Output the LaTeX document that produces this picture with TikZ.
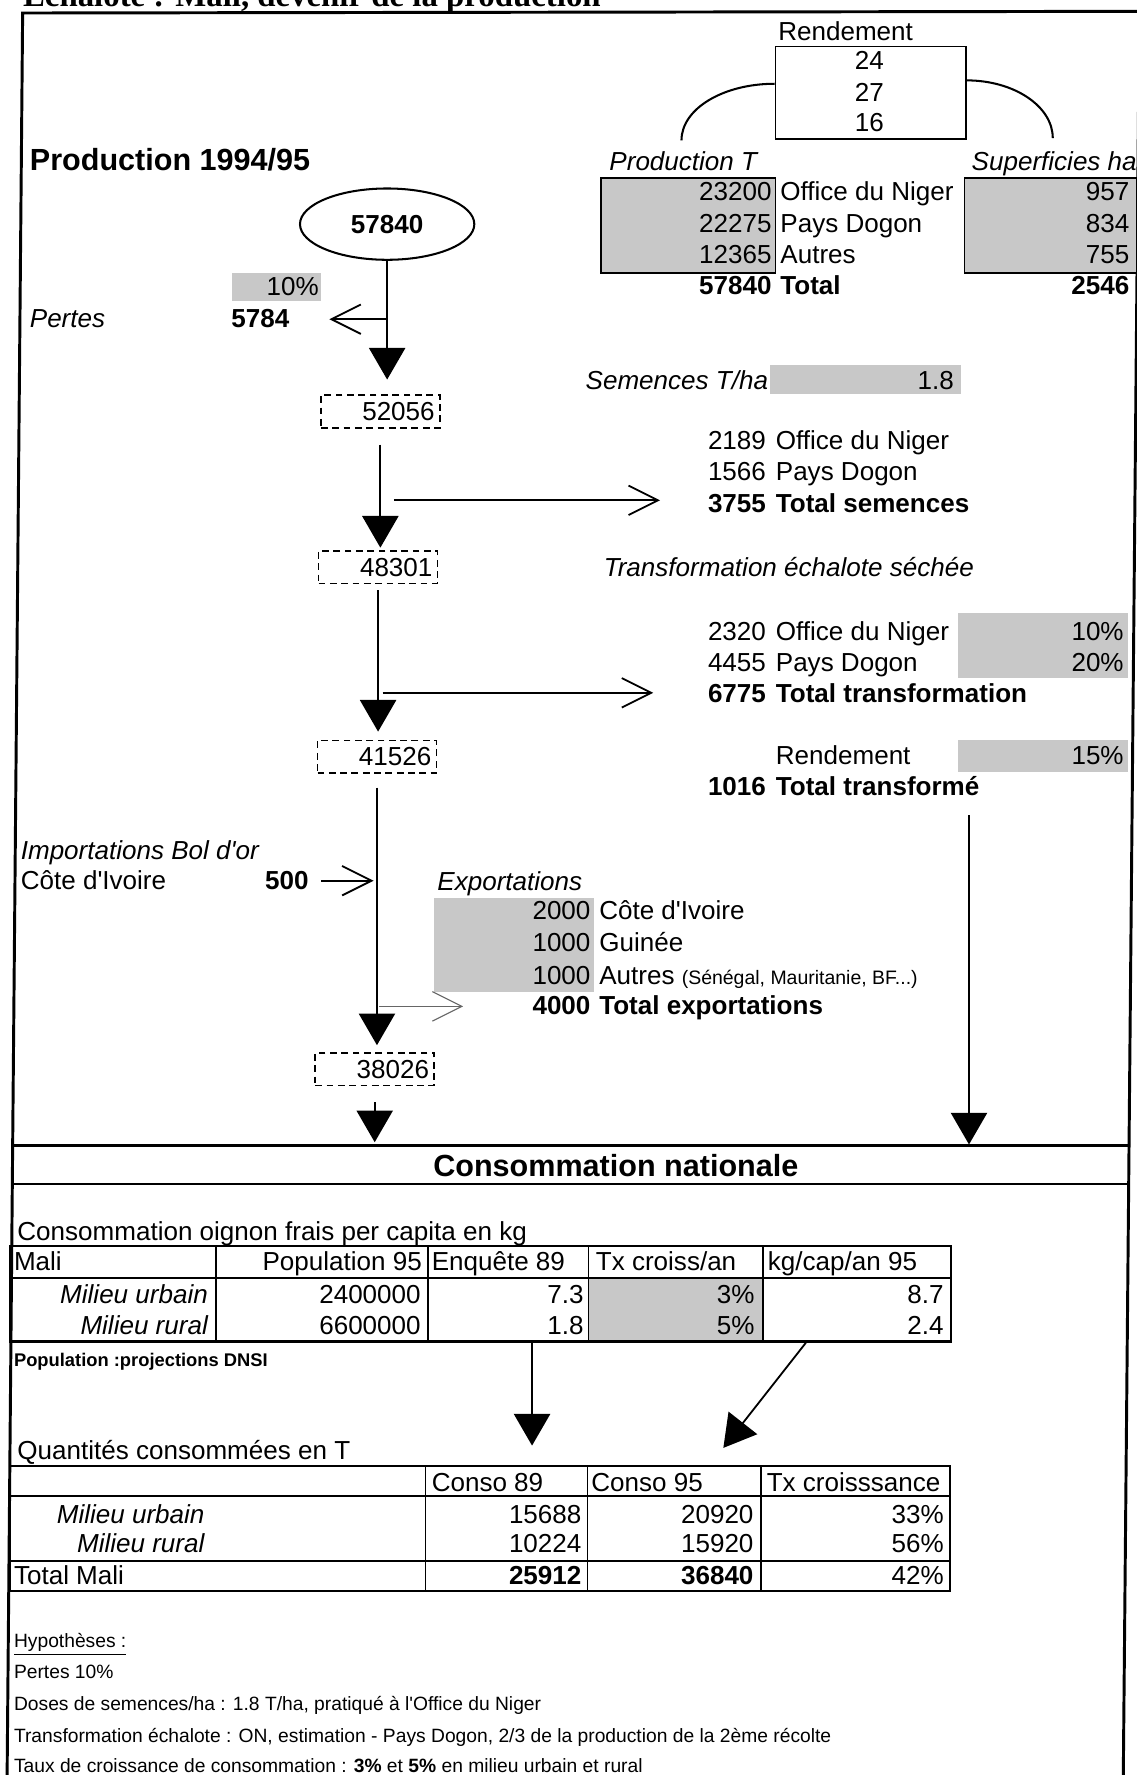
\documentclass[tikz,border=0pt]{standalone}
\usepackage{fontspec}
\setmainfont{Liberation Sans}
\newfontfamily\seriffont{Liberation Serif}
\usepackage{xcolor}
\usepackage{tikz}
\usetikzlibrary{arrows.meta,positioning,shapes.geometric}
\definecolor{grisombre}{RGB}{200,200,200}
\newcommand\fsnorm{\fontsize{11.5pt}{13.8pt}\selectfont}
\newcommand\fsgrand{\fontsize{13.5pt}{16pt}\selectfont\bfseries}
\newcommand\fspetit{\fontsize{8.6pt}{10pt}\selectfont}
\newcommand\fsnote{\fontsize{8.5pt}{10pt}\selectfont}
\newcommand\fsnotegras{\fontsize{8.1pt}{10pt}\selectfont\bfseries}
\newcommand\apos{\textquotesingle}
\tikzset{
  cadre/.style={line width=1.3pt,black},
  boite/.style={draw=black,line width=0.8pt,inner sep=0pt},
  ombre/.style={fill=grisombre},
  lib/.style={font=\fsnorm,inner sep=0pt,anchor=base west},
  val/.style={font=\fsnorm,inner sep=0pt,anchor=base east},
  pointille/.style={draw,dash pattern=on 3pt off 2pt,line width=0.7pt,font=\fsnorm,
    text width=48pt,align=right,inner xsep=2.25pt,minimum height=14.5pt,inner ysep=0pt},
  fleche/.style={-{Triangle[length=14pt,width=16pt]},line width=0.8pt},
  barbe/.style={-{Straight Barb[length=13pt,width=13pt]},line width=0.8pt},
  lien/.style={line width=0.9pt},
  tabfort/.style={line width=1pt},
  tabfin/.style={line width=0.7pt}
}

\begin{document}
\begin{tikzpicture}[x=0.5pt,y=-0.5pt]
\useasboundingbox (0,0) rectangle (1004,1568);

% titre, coupe par le bord du scan
\node[font=\seriffont\fontsize{14.5pt}{16pt}\selectfont\bfseries,inner sep=0pt,anchor=base west]
  (titre) at (20,6) {Echalote : Mali, devenir de la production};

% cadre general (legerement incline)
\draw[cadre] (6,1600) -- (20,11.5) -- (1012,10);
\draw[cadre] (1006.5,10) -- (992,1600);

% rendement et superficies
\node[lib,anchor=base] (rendlib) at (747,35.5) {Rendement};
\node[boite,minimum width=84pt,minimum height=41pt] (rend) at (769,82) {};
\foreach \v/\y [count=\i] in {24/61.5,27/89.5,16/116.5}
  \node[lib,anchor=base] (rend\i) at (768,\y) {\v};
\coordinate (arcg) at (602,124);
\coordinate (arcd) at (930,122);
\draw[lien] ([yshift=4pt]rend.west) .. controls (639,74) and (602,96) .. (arcg);
\draw[lien] ([yshift=5.5pt]rend.east) .. controls (896,71) and (930,94) .. (arcd);

\node[lib,font=\fsgrand] (prodtitre) at (26,150.5) {Production 1994/95};
\node[lib,font=\fsnorm\itshape] (prodT) at (538,150.5) {Production T};
\node[lib,font=\fsnorm\itshape] (superf) at (858,150.5) {Superficies ha};
\node[boite,ombre,minimum width=77pt,minimum height=42pt] (boxprod) at (608,199) {};
\node[boite,ombre,minimum width=76pt,minimum height=42pt] (boxsup) at (928,199) {};
\foreach \p/\l/\s/\y [count=\i] in {23200/Office du Niger/957/177.5,22275/Pays Dogon/834/205.5,12365/Autres/755/232.5}{
  \node[val] (pv\i) at (682,\y) {\p};
  \node[lib] (pl\i) at (689,\y) {\l};
  \node[val] (sv\i) at (998,\y) {\s};
}
\node[val,font=\fsnorm\bfseries] (pvtot) at (682,260.5) {57840};
\node[lib,font=\fsnorm\bfseries] (pltot) at (689,260.5) {Total};
\node[val,font=\fsnorm\bfseries] (svtot) at (998,260.5) {2546};

% production et pertes
\node[ellipse,draw,line width=0.9pt,minimum width=77pt,minimum height=31.5pt,
  font=\fsnorm\bfseries] (prod) at (342,198) {57840};
\fill[grisombre] (205,241) rectangle (284,266);
\node[val] (tauxp) at (282,261) {10\%};
\node[lib,font=\fsnorm\itshape] (pertes) at (26,289.5) {Pertes};
\node[val,font=\fsnorm\bfseries] (pertesval) at (256,289.5) {5784};
\coordinate (jpertes) at (342,282);
\draw[barbe,shorten >=17.5pt] (jpertes) -- (jpertes -| pertesval.east);

% bilans intermediaires
\node[pointille] (n52056) at (336,363.5) {52056};
\node[pointille] (n48301) at (334,501) {48301};
\node[pointille] (n41526) at (333,668.5) {41526};
\node[pointille] (n38026) at (331,944.5) {38026};

% semences
\node[lib,font=\fsnorm\itshape] (semlib) at (517,344) {Semences T/ha};
\fill[grisombre] (680,322) rectangle (849,348);
\node[val] (semdose) at (843,344) {1.8};
\foreach \v/\l/\y [count=\i] in {2189/Office du Niger/397.5,1566/Pays Dogon/424.5}{
  \node[val] (semv\i) at (677,\y) {\v};
  \node[lib] (seml\i) at (685,\y) {\l};
}
\node[val,font=\fsnorm\bfseries] (semv3) at (677,452.5) {3755};
\node[lib,font=\fsnorm\bfseries] (seml3) at (685,452.5) {Total semences};

% transformation
\node[lib,font=\fsnorm\itshape] (trlib) at (533,509.5) {Transformation échalote séchée};
\fill[grisombre] (846,541.5) rectangle (996,599);
\foreach \v/\l/\t/\y [count=\i] in {2320/Office du Niger/10\%/565.5,4455/Pays Dogon/20\%/593.5}{
  \node[val] (trv\i) at (677,\y) {\v};
  \node[lib] (trl\i) at (685,\y) {\l};
  \node[val] (trt\i) at (993,\y) {\t};
}
\node[val,font=\fsnorm\bfseries] (trv3) at (677,620.5) {6775};
\node[lib,font=\fsnorm\bfseries] (trl3) at (685,620.5) {Total transformation};
\fill[grisombre] (846,654) rectangle (996,682);
\node[lib] (rendtr) at (685,675.5) {Rendement};
\node[val] (rendtrv) at (993,675.5) {15\%};
\node[val,font=\fsnorm\bfseries] (trf) at (677,702.5) {1016};
\node[lib,font=\fsnorm\bfseries] (trfl) at (685,702.5) {Total transformé};

% importations
\node[lib,font=\fsnorm\itshape] (implib) at (18,759.5) {Importations Bol d\apos or};
\node[lib] (impci) at (18,786) {Côte d\apos Ivoire};
\node[val,font=\fsnorm\bfseries] (imp500) at (273,786) {500};

% exportations
\node[lib,font=\fsnorm\itshape] (explib) at (386,786.5) {Exportations};
\fill[grisombre] (383,793) rectangle (525,876);
\node[val] (exv1) at (522,812.5) {2000};
\node[lib] (exl1) at (529,812.5) {Côte d\apos Ivoire};
\node[val] (exv2) at (522,840.5) {1000};
\node[lib] (exl2) at (529,840.5) {Guinée};
\node[val] (exv3) at (522,869.5) {1000};
\node[lib] (exl3) at (529,869.5) {Autres {\fspetit (Sénégal, Mauritanie, BF...)}};
\node[val,font=\fsnorm\bfseries] (exv4) at (522,896.5) {4000};
\node[lib,font=\fsnorm\bfseries] (exl4) at (529,896.5) {Total exportations};

% consommation nationale
\node[draw,line width=1pt,minimum width=493pt,minimum height=17pt,inner sep=0pt] (cons) at (504,1029) {};
\node[lib,font=\fsgrand,anchor=base] (constitre) at (544,1039.5) {Consommation nationale};

% fleches du flux
\draw[fleche,shorten >=6.5pt] (prod.south) -- (prod.south |- n52056.north);
\draw[fleche,shorten <=7pt,shorten >=1pt] (n52056.south) -- (n52056.south |- n48301.north);
\draw[fleche,shorten <=2.5pt,shorten >=3.5pt] (n48301.south) -- (n48301.south |- n41526.north);
\draw[fleche,shorten <=6pt,shorten >=3pt] (n41526.south) -- (n41526.south |- n38026.north);
\draw[fleche,shorten <=7pt,shorten >=1pt] (n38026.south) -- (n38026.south |- cons.north);
\coordinate (jsem) at (348,442);
\draw[barbe,shorten >=21pt] (jsem) -- (jsem -| semv3.west);
\coordinate (jtrans) at (338,612);
\draw[barbe,shorten >=24pt] (jtrans) -- (jtrans -| trv3.west);
\coordinate (jimport) at (333,778);
\draw[barbe,shorten <=5.5pt,shorten >=1.5pt] (jimport -| imp500.east) -- (jimport);
\coordinate (jexport) at (335,889);
\draw[barbe,line width=0.5pt,black!60,shorten >=30.5pt] (jexport) -- (jexport -| exv4.west);
\coordinate (jtransf) at (856,720);
\draw[fleche] (jtransf) -- (jtransf |- cons.north);

% tableau per capita
\node[lib] (t1titre) at (15,1096) {Consommation oignon frais per capita en kg};
\fill[grisombre] (520,1129) rectangle (674,1185);
\draw[tabfort] (9,1101) rectangle (840,1185);
\draw[tabfort] (9,1129) -- (840,1129);
\foreach \c in {191,378,520,674} \draw[tabfin] (\c,1101) -- (\c,1185);
\node[lib] (t1mali) at (12,1122.5) {Mali};
\node[val] (t1pop) at (373,1122.5) {Population 95};
\node[lib] (t1enq) at (381,1122.5) {Enquête 89};
\node[lib] (t1tx) at (526,1122.5) {Tx croiss/an};
\node[lib] (t1kg) at (678,1122.5) {kg/cap/an 95};
\foreach \m/\p/\e/\t/\k/\y [count=\i] in {Milieu urbain/2400000/7.3/3\%/8.7/1151.5,Milieu rural/6600000/1.8/5\%/2.4/1178.5}{
  \node[val,font=\fsnorm\itshape] (t1m\i) at (184,\y) {\m};
  \node[val] (t1p\i) at (372,\y) {\p};
  \node[val] (t1e\i) at (516,\y) {\e};
  \node[val] (t1t\i) at (667,\y) {\t};
  \node[val] (t1k\i) at (834,\y) {\k};
}
\node[lib,font=\fsnotegras] (popnote) at (12,1207) {Population :projections DNSI};

\coordinate (t1a) at (470,1185);
\coordinate (t2a) at (470,1277);
\draw[fleche] (t1a) -- (t2a);
\coordinate (t1b) at (712,1186);
\coordinate (t2b) at (639,1279);
\draw[fleche] (t1b) -- (t2b);

% tableau quantites
\node[lib] (t2titre) at (15,1289) {Quantités consommées en T};
\draw[tabfort] (9,1295) rectangle (839,1405.5);
\draw[tabfort] (9,1321.5) -- (839,1321.5);
\draw[tabfort] (9,1379) -- (839,1379);
\foreach \c in {376,519,672} \draw[tabfin] (\c,1295) -- (\c,1405.5);
\node[lib] (t2c89) at (381,1317.5) {Conso 89};
\node[lib] (t2c95) at (522,1317.5) {Conso 95};
\node[lib] (t2tx) at (677,1317.5) {Tx croisssance};
\foreach \m/\a/\b/\t/\y [count=\i] in {Milieu urbain/15688/20920/33\%/1345.5,Milieu rural/10224/15920/56\%/1371.5}{
  \node[val,font=\fsnorm\itshape] (t2m\i) at (181,\y) {\m};
  \node[val] (t2a\i) at (514,\y) {\a};
  \node[val] (t2b\i) at (666,\y) {\b};
  \node[val] (t2t\i) at (834,\y) {\t};
}
\node[lib] (t2tot) at (12,1399.5) {Total Mali};
\node[val,font=\fsnorm\bfseries] (t2tota) at (514,1399.5) {25912};
\node[val,font=\fsnorm\bfseries] (t2totb) at (666,1399.5) {36840};
\node[val] (t2tott) at (834,1399.5) {42\%};

% hypotheses
\node[lib,font=\fsnote] (hyp) at (12,1455) {\underline{Hypothèses :}};
\node[lib,font=\fsnote] (hyp1) at (12,1483) {Pertes 10\%};
\node[lib,font=\fsnote] (hyp2) at (12,1511) {Doses de semences/ha : 1.8 T/ha, pratiqué à l\apos Office du Niger};
\node[lib,font=\fsnote] (hyp3) at (12,1539) {Transformation échalote : ON, estimation - Pays Dogon, 2/3 de la production de la 2ème récolte};
\node[lib,font=\fsnote] (hyp4) at (12,1566) {Taux de croissance de consommation : \textbf{3\%} et \textbf{5\%} en milieu urbain et rural};
\end{tikzpicture}
\end{document}
